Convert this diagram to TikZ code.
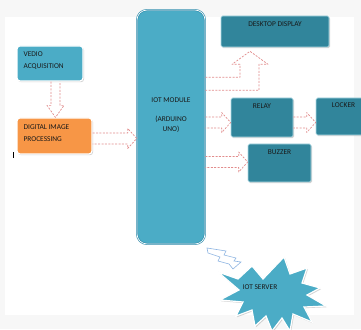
\documentclass[tikz,border=0pt]{standalone}
\usepackage{fontspec}
\setmainfont{Carlito}
\usetikzlibrary{positioning, calc, shadows}

\definecolor{aqua}{RGB}{75,172,198}
\definecolor{darkaqua}{RGB}{49,133,155}
\definecolor{aquaedge}{RGB}{46,139,170}
\definecolor{procorange}{RGB}{247,150,70}
\definecolor{flowred}{RGB}{226,140,140}
\definecolor{boltblue}{RGB}{141,180,226}
\definecolor{framegray}{RGB}{247,247,247}

\tikzset{
  lbl/.style={inner sep=0pt, font=\fontsize{7.4}{11.5}\selectfont, text=black!90},
  softshadow/.style={drop shadow={shadow xshift=1pt, shadow yshift=-1.2pt, opacity=.35, fill=black!50}},
  lightbox/.style={rectangle, rounded corners=3pt, fill=aqua, draw=white, line width=1.2pt, softshadow},
  procbox/.style={rectangle, rounded corners=3pt, fill=procorange, draw=white, line width=1.2pt, softshadow},
  darkbox/.style={rectangle, rounded corners=1.5pt, fill=darkaqua, draw=aqua!45, line width=.6pt, softshadow},
  modbox/.style={rectangle, rounded corners=10pt, fill=aqua, draw=aquaedge, double=white, double distance=.7pt, line width=.6pt},
  flow/.style={draw=flowred, line width=.7pt, dash pattern=on 2pt off 1.4pt, line join=round},
  serverstar/.style={fill=aqua, draw=white, line width=1.2pt, line join=miter, softshadow},
  bolt/.style={fill=white, draw=boltblue, line width=.6pt, line join=miter}
}

% block arrow pointing right, tail at #1, tip x taken from #2
\newcommand{\flowright}[2]{%
  \draw[flow] let \p1=(#1), \p2=(#2) in
    (\x1,\y1+5.5pt) -- (\x2-9pt,\y1+5.5pt) -- (\x2-9pt,\y1+10pt) -- (\x2,\y1)
    -- (\x2-9pt,\y1-10pt) -- (\x2-9pt,\y1-5.5pt) -- (\x1,\y1-5.5pt);}

\begin{document}
\begin{tikzpicture}[x=1pt, y=1pt]
\useasboundingbox (0,0) rectangle (361,329);
\fill[framegray] (0,0) rectangle (361,329);
\fill[white] (5,14) rectangle (354,312);

\node[lightbox, minimum width=66pt, minimum height=35pt] (vedio) at (50,265.5) {};
\node[procbox, minimum width=75pt, minimum height=36pt] (dip) at (54.5,193) {};
\node[modbox, minimum width=68pt, minimum height=234pt] (iot) at (171,202) {};
\node[darkbox, minimum width=108pt, minimum height=31pt] (desk) at (275,297.5) {};
\node[darkbox, minimum width=62pt, minimum height=39pt] (relay) at (262,211.5) {};
\node[darkbox, minimum width=55pt, minimum height=37pt] (locker) at (343.5,212.5) {};
\node[darkbox, minimum width=63pt, minimum height=38pt] (buzzer) at (279.5,166) {};

\node[lbl, align=left, below right=6.5pt and 7pt of vedio.north west] (vediotxt) {VEDIO\\ACQUISITION};
\node[lbl, align=left, below right=7.5pt and 7pt of dip.north west] (diptxt) {DIGITAL IMAGE\\PROCESSING};
\node[lbl, align=center, below=87.5pt of iot.north] (iottxt) {IOT MODULE\\[7.5pt](ARDUINO\\[-1.5pt]UNO)};
\node[lbl, below=5.5pt of desk.north] (desktxt) {DESKTOP DISPLAY};
\node[lbl, below=5.5pt of relay.north] (relaytxt) {RELAY};
\node[lbl, below=4.5pt of locker.north] (lockertxt) {LOCKER};
\node[lbl, below=5.5pt of buzzer.north] (buzzertxt) {BUZZER};

\draw[flow] let \p1=(vedio.south), \p2=([xshift=1pt]dip.north) in
  (\x2-4.5pt,\y1) -- (\x2-4.5pt,\y2+12pt) -- (\x2-8.5pt,\y2+12pt) -- (\x2,\y2)
  -- (\x2+8.5pt,\y2+12pt) -- (\x2+4.5pt,\y2+12pt) -- (\x2+4.5pt,\y1);
\flowright{[yshift=-2.5pt]dip.east}{iot.west}
\draw[flow] let \p1=(iot.east), \p2=([xshift=-25pt,yshift=-4pt]desk.south) in
  (\x1,\y2-26pt) -- (\x2-10pt,\y2-26pt) -- (\x2-10pt,\y2-13pt) -- (\x2-18pt,\y2-13pt) -- (\x2,\y2)
  -- (\x2+18pt,\y2-13pt) -- (\x2+9pt,\y2-13pt) -- (\x2+9pt,\y2-39pt) -- (\x1,\y2-39pt);
\flowright{[yshift=4.5pt]iot.east}{relay.west}
\flowright{[yshift=-5pt]relay.east}{locker.west}
\flowright{[yshift=-35pt]iot.east}{buzzer.west}

\draw[bolt] (207,81) -- (226,78) -- (224,74) -- (236,71) -- (234,68) -- (241,67) -- (233,60)
  -- (229,65) -- (218,68) -- (220,72) -- (208,76) -- cycle;

\draw[serverstar] (218,57) -- (238,50) -- (252,63) -- (263,50) -- (284,72) -- (290,55) -- (307,61)
  -- (302,46) -- (320,41) -- (307,34) -- (326,23) -- (304,22) -- (312,7) -- (293,15) -- (290,-2)
  -- (282,11) -- (272,-2) -- (266,13) -- (255,3) -- (252,19) -- (236,13) -- (243,27) -- (220,29)
  -- (239,39) -- cycle;
\node[lbl] (server) at (260,41.5) {IOT SERVER};

\draw[black, line width=.8pt] (13,171) -- (13,177);
\end{tikzpicture}
\end{document}
